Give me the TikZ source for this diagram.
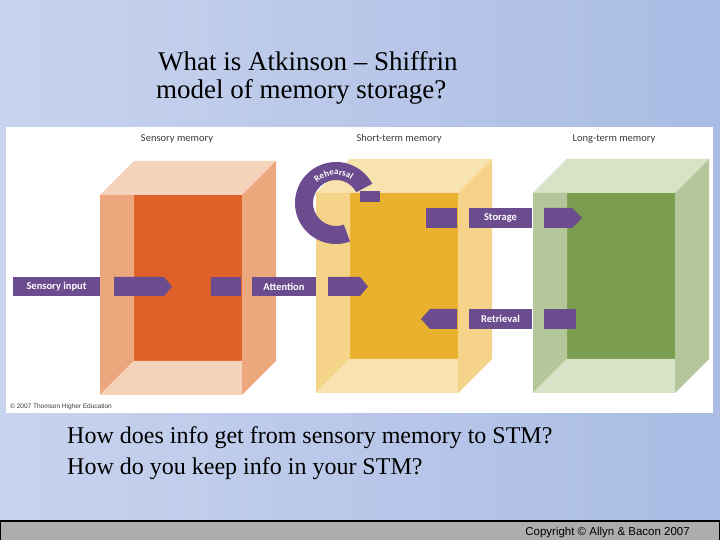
\documentclass[tikz,border=0pt]{standalone}
\usepackage{fontspec}
\setmainfont{Liberation Serif}
\newfontfamily\labf{Carlito}
\newfontfamily\arialf{Liberation Sans}
\usetikzlibrary{decorations.text,calc}
\definecolor{purp}{HTML}{6B4C8E}
\definecolor{hdr}{HTML}{3A3A3A}
\definecolor{bgll}{RGB}{200,211,238}
\definecolor{bgmid}{RGB}{240,243,250}
\definecolor{bgur}{RGB}{170,188,228}
\definecolor{aL}{RGB}{245,211,187}\definecolor{aM}{RGB}{237,167,125}\definecolor{aD}{RGB}{223,97,41}
\definecolor{bL}{RGB}{248,227,174}\definecolor{bM}{RGB}{245,212,138}\definecolor{bD}{RGB}{233,177,46}
\definecolor{cL}{RGB}{215,226,198}\definecolor{cM}{RGB}{180,199,154}\definecolor{cD}{RGB}{123,157,80}
\newcommand\memcube[4]{%
 \fill[#2] (#1,345) -- ({#1+34},379) -- ({#1+176},379) -- ({#1+142},345) -- cycle;
 \fill[#4] ({#1+34},179) rectangle ({#1+142},345);
 \fill[#3] (#1,345) -- ({#1+34},345) -- ({#1+34},179) -- (#1,145) -- cycle;
 \fill[#2] (#1,145) -- ({#1+34},179) -- ({#1+142},179) -- ({#1+142},145) -- cycle;
 \fill[#3] ({#1+142},345) -- ({#1+176},379) -- ({#1+176},179) -- ({#1+142},145) -- cycle;}
\tikzset{lab/.style={fill=purp,text=white,font=\labf\bfseries\fontsize{10.5}{11}\selectfont,minimum height=19pt,inner sep=0pt},
 hd/.style={text=hdr,font=\labf\fontsize{10.5}{11}\selectfont}}
\begin{document}
\begin{tikzpicture}[x=1pt,y=1pt]
\useasboundingbox (0,0) rectangle (720,540);
\shade[left color=bgll,middle color=bgmid,right color=bgur] (0,0) rectangle (720,540);
\fill[white] (6,127) rectangle (713,413);
\memcube{100}{aL}{aM}{aD}
\begin{scope}[yshift=2pt]
\memcube{316}{bL}{bM}{bD}
\memcube{533}{cL}{cM}{cD}
\end{scope}
\node[hd] (hs) at (177,401) {Sensory memory};
\node[hd] (hm) at (399,401) {Short-term memory};
\node[hd] (hl) at (614,401) {Long-term memory};
\node[anchor=west,text=hdr,font=\arialf\fontsize{6.5}{7}\selectfont,inner sep=0pt] (cp) at (10,133) {© 2007 Thomson Higher Education};
% sensory row
\node[lab,minimum width=87pt] (si) at (56.5,253.5) {Sensory input};
\fill[purp] (114,244) -- (164,244) -- (172,253.5) -- (164,263) -- (114,263) -- cycle;
\fill[purp] (211,244) rectangle (241,263);
\node[lab,minimum width=64pt] (at) at (284,253.5) {Attention};
\fill[purp] (328,244) -- (360,244) -- (368,253.5) -- (360,263) -- (328,263) -- cycle;
% storage
\fill[purp] (426,312) rectangle (457,332);
\node[lab,minimum width=63pt,minimum height=20pt] (st) at (500.5,322) {Storage};
\fill[purp] (544,312) -- (572,312) -- (582,322) -- (572,332) -- (544,332) -- cycle;
% retrieval
\fill[purp] (421,221) -- (430,231) -- (457,231) -- (457,211) -- (430,211) -- cycle;
\node[lab,minimum width=63pt,minimum height=20pt] (re) at (500.5,221) {Retrieval};
\fill[purp] (544,211) rectangle (576,231);
% rehearsal
\fill[purp] ($(336,337)+(28:41)$) arc[start angle=28,end angle=290,radius=41] -- ($(336,337)+(290:23)$) arc[start angle=290,end angle=28,radius=23] -- cycle;
\fill[purp] (360,338) rectangle (380,349);
\path[decorate,decoration={text along path,text align=center,text={|\color{white}\labf\bfseries\fontsize{9}{9}\selectfont|Rehearsal}}] ($(336,337)+(165:28)$) arc[start angle=165,end angle=25,radius=28];
% texts
\node[anchor=base west,inner sep=0pt,font=\fontsize{27}{30}\selectfont] (t1) at (158,469) {What is Atkinson – Shiffrin};
\node[anchor=base west,inner sep=0pt,font=\fontsize{27}{30}\selectfont] (t2) at (156,441) {model of memory storage?};
\node[anchor=base west,inner sep=0pt,font=\fontsize{24}{26}\selectfont] (b1) at (67,96) {How does info get from sensory memory to STM?};
\node[anchor=base west,inner sep=0pt,font=\fontsize{24}{26}\selectfont] (b2) at (67,65) {How do you keep info in your STM?};
\fill[black!32] (0,0) rectangle (720,19);
\draw[line width=2pt] (0,19) -- (720,19);
\draw[line width=1pt] (0.5,0) -- (0.5,19) (719.5,0)--(719.5,19);
\node[anchor=base east,inner sep=0pt,font=\arialf\fontsize{11.5}{12}\selectfont] (cr) at (690,4) {Copyright © Allyn \& Bacon 2007};
\end{tikzpicture}
\end{document}
